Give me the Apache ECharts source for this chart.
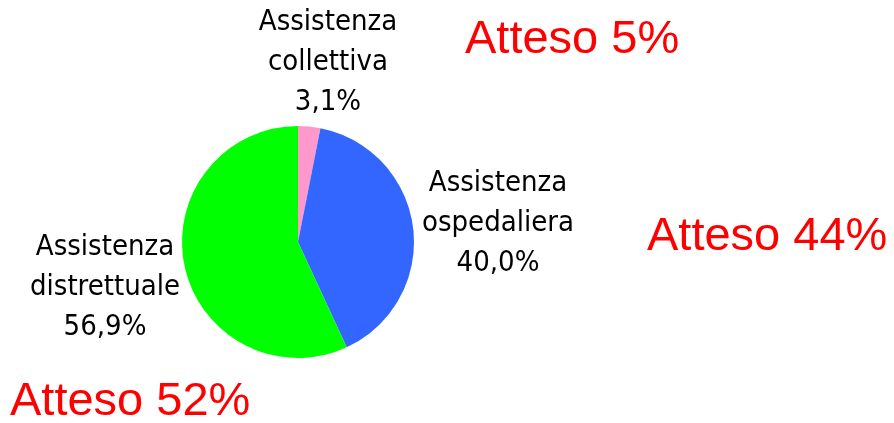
<!DOCTYPE html>
<html lang="it">
<head>
<meta charset="utf-8">
<title>Assistenza</title>
<script src="https://cdn.jsdelivr.net/npm/echarts@6/dist/echarts.min.js"></script>
<style>
  html, body { margin: 0; padding: 0; background: #fff; }
  #chart { width: 894px; height: 423px; }
</style>
</head>
<body>
<div id="chart"></div>
<script>
    var categories = ['Assistenza\ncollettiva', 'Assistenza\nospedaliera', 'Assistenza\ndistrettuale'];
    var values = [3.1, 40.0, 56.9];
    var colors = ['#ff99cc', '#3366ff', '#00ff00'];
    var expected = ['Atteso 5%', 'Atteso 44%', 'Atteso 52%'];

    // label block centres (px)
    var labelPos = [[328, 62], [498, 223], [105, 287]];
    var expectedPos = [[465, 40], [647, 237], [10, 402]];

    var chart = echarts.init(document.getElementById('chart'));

    var pieData = [];
    for (var i = 0; i < categories.length; i++) {
        pieData.push({ name: categories[i], value: values[i], itemStyle: { color: colors[i] } });
    }

    var graphics = [];
    for (var j = 0; j < expected.length; j++) {
        graphics.push({
            type: 'text',
            x: expectedPos[j][0],
            y: expectedPos[j][1],
            style: {
                text: expected[j],
                fill: '#ff0000',
                font: '47px "Liberation Sans", Arial, sans-serif',
                verticalAlign: 'middle'
            }
        });
    }

    var option = {
        animation: false,
        series: [{
            type: 'pie',
            center: [298, 242],
            radius: 116,
            startAngle: 90,
            clockwise: true,
            data: pieData,
            label: {
                show: true,
                position: 'outside',
                overflow: 'none',
                color: '#000',
                fontFamily: '"DejaVu Sans Condensed", "DejaVu Sans", sans-serif',
                fontSize: 29,
                lineHeight: 40,
                align: 'center',
                formatter: function (p) {
                    return p.name + '\n' + p.value.toFixed(1).replace('.', ',') + '%';
                }
            },
            labelLine: { show: false },
            labelLayout: function (p) {
                return {
                    x: labelPos[p.dataIndex][0],
                    y: labelPos[p.dataIndex][1],
                    align: 'center',
                    verticalAlign: 'middle'
                };
            },
            emphasis: { disabled: true }
        }],
        graphic: graphics
    };
    chart.setOption(option);
</script>
</body>
</html>
